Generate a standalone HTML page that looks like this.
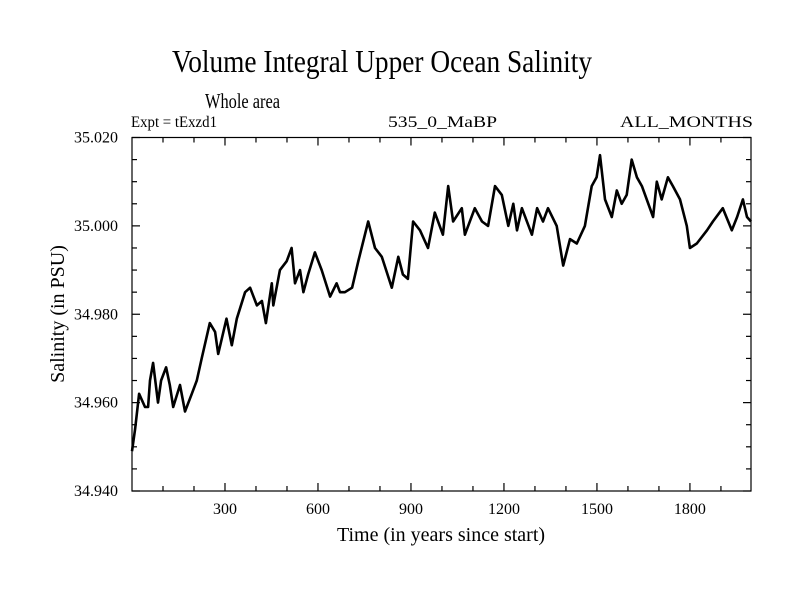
<!DOCTYPE html>
<html><head><meta charset="utf-8"><style>
html,body{margin:0;padding:0;background:#fff}
svg{display:block;font-family:"Liberation Serif",serif}
</style></head><body>
<svg id="chart" width="800" height="600">
<text x="172" y="72" font-size="32" textLength="420" lengthAdjust="spacingAndGlyphs">Volume Integral Upper Ocean Salinity</text>
<text x="205" y="108" font-size="21" textLength="75" lengthAdjust="spacingAndGlyphs">Whole area</text>
<text x="131" y="127" font-size="16" textLength="86" lengthAdjust="spacingAndGlyphs">Expt = tExzd1</text>
<text x="388" y="127" font-size="16" textLength="109" lengthAdjust="spacingAndGlyphs">535_0_MaBP</text>
<text x="620" y="127" font-size="16" textLength="133" lengthAdjust="spacingAndGlyphs">ALL_MONTHS</text>
<text x="441" y="541" font-size="20" text-anchor="middle">Time (in years since start)</text>
<text transform="translate(64,314) rotate(-90)" font-size="20" text-anchor="middle">Salinity (in PSU)</text>
<g id="axes"></g>
<path id="line" fill="none" stroke="#000" stroke-width="2.6" stroke-linejoin="round"/>
<rect x="132" y="137.5" width="619" height="353.5" fill="none" stroke="#000" stroke-width="1.2"/>
</svg>
<script>
const years=[0,10,23,42,52,58,68,84,94,110,122,133,155,171,193,209,225,251,268,278,305,322,338,365,381,403,419,432,451,456,477,499,515,526,542,553,568,590,612,639,660,671,687,710,730,762,784,806,838,859,874,890,907,929,955,977,1003,1020,1036,1064,1074,1106,1129,1149,1171,1193,1214,1230,1242,1258,1290,1307,1326,1342,1370,1391,1413,1435,1461,1483,1499,1510,1526,1548,1564,1580,1596,1612,1629,1645,1681,1693,1709,1729,1745,1768,1790,1800,1822,1855,1874,1906,1935,1952,1971,1984,1997];
const salinity=[34.949,34.954,34.962,34.959,34.959,34.965,34.969,34.960,34.965,34.968,34.964,34.959,34.964,34.958,34.962,34.965,34.970,34.978,34.976,34.971,34.979,34.973,34.979,34.985,34.986,34.982,34.983,34.978,34.987,34.982,34.990,34.992,34.995,34.987,34.990,34.985,34.989,34.994,34.990,34.984,34.987,34.985,34.985,34.986,34.992,35.001,34.995,34.993,34.986,34.993,34.989,34.988,35.001,34.999,34.995,35.003,34.998,35.009,35.001,35.004,34.998,35.004,35.001,35.000,35.009,35.007,35.000,35.005,34.999,35.004,34.998,35.004,35.001,35.004,35.000,34.991,34.997,34.996,35.000,35.009,35.011,35.016,35.006,35.002,35.008,35.005,35.007,35.015,35.011,35.009,35.002,35.010,35.006,35.011,35.009,35.006,35.000,34.995,34.996,34.999,35.001,35.004,34.999,35.002,35.006,35.002,35.001];
const xTicks=[300,600,900,1200,1500,1800];
const yTicks=[34.940,34.960,34.980,35.000,35.020];
const L=132,R=751,T=137.5,B=491,X0=0,X1=1997,Y0=34.94,Y1=35.02;
const sx=v=>L+(v-X0)/(X1-X0)*(R-L);
const sy=v=>B-(v-Y0)/(Y1-Y0)*(B-T);
const ns="http://www.w3.org/2000/svg";
const axes=document.getElementById('axes');
function line(x1,y1,x2,y2){const l=document.createElementNS(ns,'line');l.setAttribute('x1',x1);l.setAttribute('y1',y1);l.setAttribute('x2',x2);l.setAttribute('y2',y2);l.setAttribute('stroke','#000');l.setAttribute('stroke-width','1.2');


axes.appendChild(l);}
function text(x,y,s,anchor){const t=document.createElementNS(ns,'text');t.setAttribute('x',x);t.setAttribute('y',y);t.setAttribute('font-size','16');t.setAttribute('text-anchor',anchor);t.textContent=s;


axes.appendChild(t);}
for(let y=100;y<X1;y+=100){const x=sx(y);const major=y%300===0;line(x,B,x,B-(major?8:5));line(x,T,x,T+(major?8:5));}
xTicks.forEach(v=>text(sx(v),514,String(v),'middle'));
for(let k=0;k<=16;k++){const v=Y0+k*0.005;const y=sy(v);const major=k%4===0;line(L,y,L+(major?8:5),y);line(R,y,R-(major?8:5),y);}
yTicks.forEach(v=>text(118,sy(v)+5,v.toFixed(3),'end'));
let d='';salinity.forEach((v,i)=>{d+=(i?'L':'M')+sx(years[i]).toFixed(1)+' '+sy(v).toFixed(1);});
document.getElementById('line').setAttribute('d',d);
</script>
</body></html>
